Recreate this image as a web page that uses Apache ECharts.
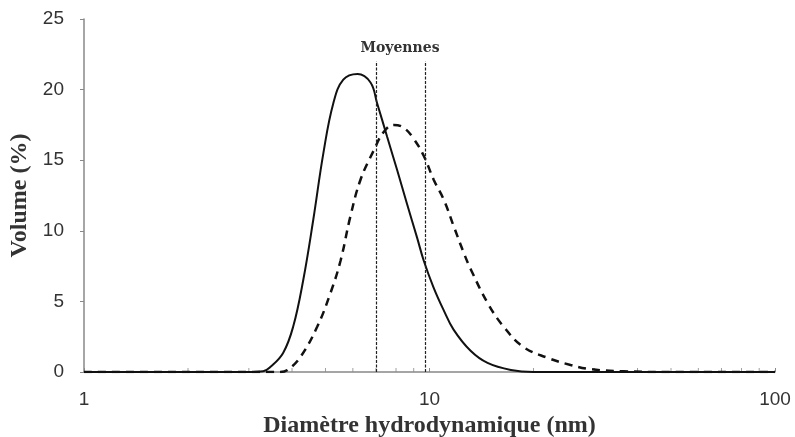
<!DOCTYPE html>
<html><head><meta charset="utf-8">
<script src="https://cdn.jsdelivr.net/npm/echarts@6/dist/echarts.min.js"></script>
<style>html,body{margin:0;padding:0;background:#fff}#c{width:795px;height:437px}</style>
</head><body><div id="c"></div>
<script>
const solidX = [1, 3.0, 3.3, 3.46, 3.77, 4.03, 4.31, 4.61, 4.93, 5.27, 5.63, 6.19, 6.75, 7.05, 7.54, 8.06, 8.61, 9.21, 9.62, 10.27, 10.98, 11.74, 13.15, 14.72, 17.2, 20, 100];
const solidY = [0, 0, 0.05, 0.35, 1.35, 3.2, 6.5, 10.8, 15.5, 19.05, 20.7, 21.1, 20.5, 19.05, 16.66, 14.3, 11.9, 9.5, 7.9, 6.0, 4.4, 3.0, 1.5, 0.64, 0.14, 0, 0];
const dashX = [1, 3.7, 3.88, 4.23, 4.73, 5.17, 5.53, 5.90, 6.31, 6.90, 7.37, 7.88, 8.42, 9.01, 9.63, 10.29, 11.0, 11.76, 12.57, 13.15, 14.72, 16.4, 18.7, 22.0, 25.6, 29.3, 36.5, 50, 100];
const dashY = [0, 0, 0.14, 1.06, 3.2, 5.6, 7.9, 11.0, 13.6, 15.7, 17.0, 17.5, 17.3, 16.5, 15.3, 13.6, 12.2, 10.3, 8.43, 7.3, 4.9, 3.2, 1.77, 1.0, 0.5, 0.2, 0.05, 0, 0];
const meanValues = [7.0, 9.7];
const meanTop = 22;
const minorTicks = [2,3,4,5,6,7,8,9,20,30,40,50,60,70,80,90];
const xTickLabels = ['1','10','100'];
const yTicks = [0,5,10,15,20,25];

const chart = echarts.init(document.getElementById('c'));
const serif = 'Liberation Serif';
const sans = 'Liberation Sans';
chart.setOption({
  animation: false,
  grid: {left: 84, right: 20, top: 19, bottom: 65, containLabel: false, outerBoundsMode: 'none'},
  xAxis: {
    type: 'log', logBase: 10, min: 1, max: 100,
    name: 'Diamètre hydrodynamique (nm)', nameLocation: 'middle', nameGap: 37,
    nameTextStyle: {fontFamily: serif, fontWeight: 'bold', fontSize: 24, color: '#333'},
    axisLine: {lineStyle: {color: '#888', width: 1.5}},
    axisTick: {inside: true, length: 4, lineStyle: {color: '#888'}},
    axisLabel: {fontFamily: sans, fontSize: 19, color: '#333', margin: 18,
      formatter: v => xTickLabels.includes(String(v)) ? String(v) : ''},
    splitLine: {show: false}
  },
  yAxis: {
    type: 'value', min: yTicks[0], max: yTicks[yTicks.length-1], interval: 5,
    name: 'Volume (%)', nameLocation: 'middle', nameGap: 47,
    nameTextStyle: {fontFamily: serif, fontWeight: 'bold', fontSize: 24, color: '#333'},
    axisLine: {show: true, lineStyle: {color: '#888', width: 1.5}},
    axisTick: {show: true, length: 4, lineStyle: {color: '#888'}},
    axisLabel: {fontFamily: sans, fontSize: 19, color: '#333', margin: 20},
    splitLine: {show: false}
  },
  series: [
    {
      type: 'line', data: solidX.map((x,i)=>[x, solidY[i]]), smooth: 0.4,
      showSymbol: false, lineStyle: {color: '#111', width: 2}, z: 3,
      markLine: {
        silent: true, symbol: 'none', label: {show: false},
        lineStyle: {color: '#222', type: [3,1.5], width: 1.2},
        data: meanValues.map(m => [{coord: [m, 0]}, {coord: [m, meanTop]}])
      }
    },
    {
      type: 'line', data: dashX.map((x,i)=>[x, dashY[i]]), smooth: 0.4,
      showSymbol: false, lineStyle: {color: '#111', width: 2.5, type: [8,6]}, z: 3
    },
    {
      type: 'scatter', data: minorTicks.map(v => [v, 0]), symbol: 'rect',
      symbolSize: [1, 4], symbolOffset: [0, -2], itemStyle: {color: '#888'},
      silent: true, clip: false, z: 2
    }
  ],
  graphic: [{
    type: 'text', x: 400, y: 41,
    style: {text: 'Moyennes', font: 'bold 14px "DejaVu Serif"', fill: '#333', textAlign: 'center'}
  }]
});
</script></body></html>
